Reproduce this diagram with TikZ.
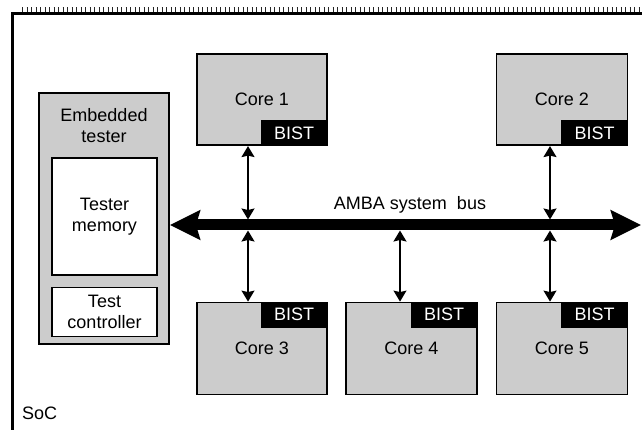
\documentclass[tikz,border=0pt]{standalone}
\usepackage{fontspec}
\setmainfont{Liberation Sans}
\usetikzlibrary{arrows.meta}
\definecolor{boxgray}{HTML}{CCCCCC}
\tikzset{
  lbl/.style={font=\fontsize{18}{21}\selectfont, align=center, inner sep=0pt},
  corebox/.style={draw=black, line width=1.8pt, fill=boxgray, minimum width=130pt,
    minimum height=91pt, inner sep=0pt, lbl},
  bistbox/.style={fill=black, text=white, minimum width=67pt, minimum height=26pt,
    inner sep=0pt, lbl},
  whitebox/.style={draw=black, line width=1.8pt, fill=white, inner sep=0pt, lbl},
  link/.style={line width=1.4pt, {Stealth[length=11pt, width=13pt, inset=1.5pt]}-{Stealth[length=11pt, width=13pt, inset=1.5pt]}},
  busline/.style={line width=11pt, {Stealth[length=30pt, width=29pt, inset=4pt]}-{Stealth[length=30pt, width=29pt, inset=4pt]}}
}
\begin{document}
\begin{tikzpicture}[x=1pt, y=-1pt]
\useasboundingbox (0,0) rectangle (642,430);

% perforated edge along the top
\draw[line width=5pt, dash pattern=on 0.9pt off 3.6pt, black!85] (22,10) -- (642,10);

% SoC outline (left and top edges)
\draw[line width=3pt] (12,430) -- (12,13.5) -- (642,13.5);
\node[lbl, anchor=west] (soc) at (22,413) {SoC};

% embedded tester
\node[draw=black, line width=1.8pt, fill=boxgray, minimum width=130pt, minimum height=251pt,
  inner sep=0pt] (tester) at (104,218.5) {};
\node[lbl] (testerlbl) at (104,126) {Embedded\\tester};
\node[whitebox, minimum width=105pt, minimum height=117pt] (mem) at (104.5,216.5) {Tester\\memory};
\node[whitebox, minimum width=105pt, minimum height=49pt] (ctrl) at (104.5,312) {Test\\controller};

% cores
\node[corebox] (core1) at (262,99.7) {Core 1};
\node[corebox, minimum width=131pt] (core2) at (562,99.7) {Core 2};
\node[corebox, minimum height=92pt] (core3) at (262,348.5) {Core 3};
\node[corebox, minimum height=92pt, minimum width=131pt] (core4) at (411.5,348.5) {Core 4};
\node[corebox, minimum height=92pt, minimum width=131pt] (core5) at (562,348.5) {Core 5};

\node[bistbox, anchor=south east] (bist1) at (core1.south east) {BIST};
\node[bistbox, anchor=south east] (bist2) at (core2.south east) {BIST};
\node[bistbox, anchor=north east] (bist3) at (core3.north east) {BIST};
\node[bistbox, anchor=north east] (bist4) at (core4.north east) {BIST};
\node[bistbox, anchor=north east] (bist5) at (core5.north east) {BIST};

% system bus
\coordinate (busR) at (641,225);
\draw[busline] (tester.east |- busR) -- (busR);
\node[lbl] (buslbl) at (410,205) {AMBA system\ \ bus};

% bus taps
\coordinate (tapA) at (248,219.5);
\coordinate (tapB) at (248,230.5);
\coordinate (tapC) at (400,230.5);
\coordinate (tapD) at (550,219.5);
\coordinate (tapE) at (550,230.5);
\draw[link] (tapA |- core1.south) -- (tapA);
\draw[link] (tapD |- core2.south) -- (tapD);
\draw[link] (tapB) -- (tapB |- core3.north);
\draw[link] (tapC) -- (tapC |- core4.north);
\draw[link] (tapE) -- (tapE |- core5.north);
\end{tikzpicture}
\end{document}
